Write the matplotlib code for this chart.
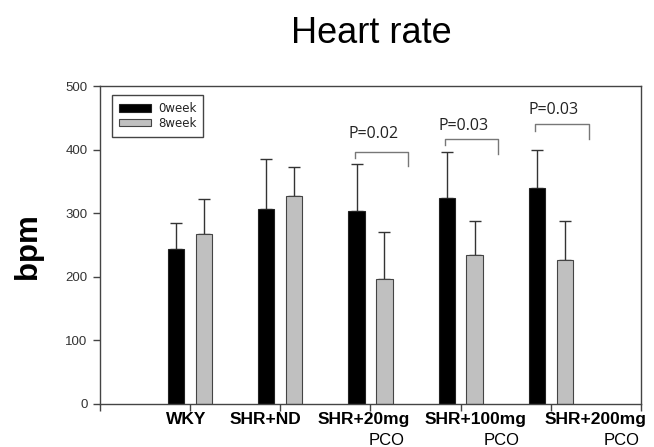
import matplotlib
matplotlib.use("Agg")
import matplotlib.pyplot as plt
from matplotlib.patches import Patch
import numpy as np

categories = ["WKY", "SHR+ND", "SHR+20mg", "SHR+100mg", "SHR+200mg"]
sub_labels = ["", "", "PCO", "PCO", "PCO"]
week0 = [243, 307, 304, 324, 340]
week0_sd = [41, 79, 74, 73, 59]
week8 = [267, 327, 196, 235, 226]
week8_sd = [55, 46, 74, 53, 62]
series_names = ["0week", "8week"]
p_texts = ["P=0.02", "P=0.03", "P=0.03"]
p_groups = [2, 3, 4]
bracket_top = [396, 416, 441]
bracket_left_end = [387, 407, 430]
bracket_right_end = [375, 393, 417]
p_text_y = [425, 437, 462]

plt.rcParams['font.family'] = ['Liberation Sans', 'DejaVu Sans']

fig = plt.figure(figsize=(6.54, 4.47), dpi=100)
ax = fig.add_axes([0.153, 0.0962, 0.827, 0.7114])

x = np.arange(1, len(categories) + 1)
w = 0.18
off = 0.155
ecol = '#333333'
ax.bar(x - off, week0, w, color='black', edgecolor='#222222', linewidth=0.8, zorder=2)
ax.bar(x + off, week8, w, color='#c0c0c0', edgecolor='#444444', linewidth=0.8, zorder=2)
ax.errorbar(x - off, week0, yerr=[np.zeros(5), week0_sd], fmt='none', ecolor=ecol,
            elinewidth=1, capsize=4.3, capthick=1, zorder=1)
ax.errorbar(x + off, week8, yerr=[np.zeros(5), week8_sd], fmt='none', ecolor=ecol,
            elinewidth=1, capsize=4.3, capthick=1, zorder=1)

for gi, txt, top, le, re, ty in zip(p_groups, p_texts, bracket_top, bracket_left_end,
                                     bracket_right_end, p_text_y):
    g = x[gi]
    xl, xr = g - 0.17, g + 0.42
    ax.plot([xl, xl, xr, xr], [le, top, top, re], color='#777777', lw=1, zorder=3)
    ax.text(g + 0.03, ty, txt, ha='center', va='center', fontsize=11.5,
            family=['Open Sans', 'DejaVu Sans'], color='#222222')

ax.set_xlim(0, 6)
ax.set_ylim(0, 500)
ax.set_xticks(range(0, 7))
ax.set_xticklabels([])
ax.set_yticks(range(0, 501, 100))
ax.tick_params(axis='y', direction='out', length=5, width=1, colors='#444444',
               labelsize=9.5, labelcolor='#333333', pad=4)
ax.tick_params(axis='x', direction='out', length=5, width=1, colors='#444444')
for s in ax.spines.values():
    s.set_color('#444444')
    s.set_linewidth(1)

label_x = [0.96, 1.84, 2.93, 4.17, 5.5]
pco_x = [0, 0, 3.18, 4.46, 5.79]
for i, (lab, sub) in enumerate(zip(categories, sub_labels)):
    ax.text(label_x[i], -12, lab, ha='center', va='top', fontsize=12.5,
            fontweight='bold', transform=ax.transData, clip_on=False)
    if sub:
        ax.text(pco_x[i], -45, sub, ha='center', va='top', fontsize=12,
                transform=ax.transData, clip_on=False)

handles = [Patch(facecolor='black', edgecolor='#222222', linewidth=0.8),
           Patch(facecolor='#c0c0c0', edgecolor='#444444', linewidth=0.8)]
leg = ax.legend(handles, series_names, loc='upper left', bbox_to_anchor=(0.022, 0.972),
                borderaxespad=0, fancybox=False, framealpha=1,
                prop={'family': 'DejaVu Sans', 'size': 8.5}, handlelength=2.7,
                handleheight=0.6, labelspacing=0.15, borderpad=0.6, handletextpad=0.6)
leg.get_frame().set_edgecolor('#444444')
leg.get_frame().set_linewidth(1)
for t in leg.get_texts():
    t.set_color('#222222')

fig.text(0.567, 0.925, "Heart rate", ha='center', va='center', fontsize=26)
fig.text(0.043, 0.45, "bpm", ha='center', va='center', fontsize=22.5, fontweight='bold',
         rotation=90)

fig.savefig("out.png", dpi=100)
